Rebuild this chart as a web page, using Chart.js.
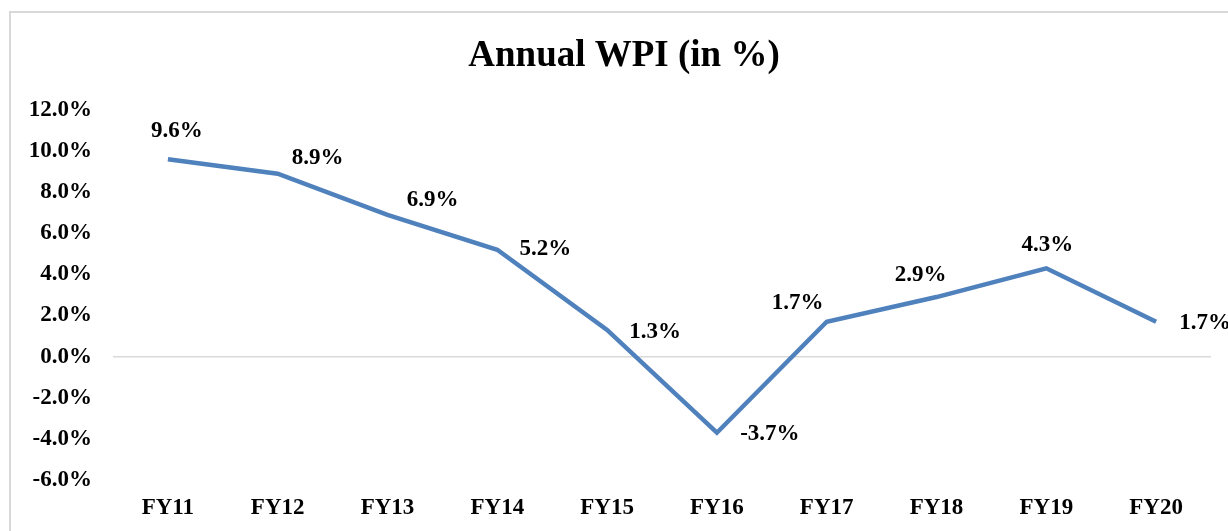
<!DOCTYPE html>
<html>
<head>
<meta charset="utf-8">
<script src="https://cdn.jsdelivr.net/npm/chart.js@4/dist/chart.umd.min.js"></script>
<style>
  html, body { margin: 0; padding: 0; background: #fff; overflow: hidden; }
  .frame { position: absolute; left: 9px; top: 11px; width: 1240px; height: 540px; border: 2px solid #d9d9d9; }
  .wrap { position: absolute; left: 0; top: 0; width: 1228px; height: 531px; }
</style>
</head>
<body>
<div class="frame"></div>
<div class="wrap"><canvas id="wpi"></canvas></div>
<script>
// data
const years = ['FY11', 'FY12', 'FY13', 'FY14', 'FY15', 'FY16', 'FY17', 'FY18', 'FY19', 'FY20'];
const wpi = [9.6, 8.9, 6.9, 5.2, 1.3, -3.7, 1.7, 2.9, 4.3, 1.7];
const yTicks = [-6, -4, -2, 0, 2, 4, 6, 8, 10, 12];
const chartTitle = 'Annual WPI (in %)';

// where each value label sits relative to its point (dx, dy in px)
const labelShift = [[9, -28], [40, -16], [45, -15], [48, -1], [48, 2], [53, 1], [-29, -19], [-16, -22], [1, -23], [49, 1]];

const serif = '"Liberation Serif", "Times New Roman", serif';

const valueLabels = {
  id: 'valueLabels',
  afterDatasetsDraw(chart) {
    const ctx = chart.ctx;
    const meta = chart.getDatasetMeta(0);
    ctx.save();
    ctx.font = 'bold 23px ' + serif;
    ctx.fillStyle = '#000';
    ctx.textAlign = 'center';
    ctx.textBaseline = 'middle';
    meta.data.forEach((pt, i) => {
      const [dx, dy] = labelShift[i];
      ctx.fillText(wpi[i].toFixed(1) + '%', pt.x + dx, pt.y + dy);
    });
    ctx.restore();
  }
};

// title centred on the whole frame rather than the padded chart box
const frameTitle = {
  id: 'frameTitle',
  afterDraw(chart) {
    const ctx = chart.ctx;
    ctx.save();
    ctx.font = 'bold 37px ' + serif;
    ctx.fillStyle = '#000';
    ctx.textAlign = 'center';
    ctx.textBaseline = 'middle';
    ctx.fillText(chartTitle, 624, 56);
    ctx.restore();
  }
};

new Chart(document.getElementById('wpi'), {
  type: 'line',
  data: {
    labels: years,
    datasets: [{
      data: wpi,
      borderColor: '#4F81BD',
      borderWidth: 4.5,
      pointRadius: 0,
      tension: 0,
      fill: false,
    }],
  },
  options: {
    responsive: true,
    maintainAspectRatio: false,
    animation: false,
    layout: { padding: { left: 0, right: 17, top: 110, bottom: 0 } },
    plugins: {
      legend: { display: false },
      tooltip: { enabled: false },
      title: { display: false },
    },
    scales: {
      x: {
        offset: true,
        grid: { display: false, drawTicks: false, offset: true },
        border: { display: false },
        ticks: {
          color: '#000',
          padding: 14,
          font: { family: serif, size: 23, weight: 'bold' },
          maxRotation: 0,
        },
        afterFit(axis) { axis.height = 51; },
      },
      y: {
        min: -6,
        max: 12,
        afterBuildTicks(axis) { axis.ticks = yTicks.map(v => ({ value: v })); },
        grid: {
          drawTicks: false,
          color: c => (c.tick && c.tick.value === 0 ? '#d9d9d9' : 'rgba(0,0,0,0)'),
          lineWidth: 1.5,
        },
        border: { display: false },
        ticks: {
          color: '#000',
          padding: 21,
          font: { family: serif, size: 23, weight: 'bold' },
          callback: v => v.toFixed(1) + '%',
        },
        afterFit(axis) { axis.width = 113; },
      },
    },
  },
  plugins: [valueLabels, frameTitle],
});
</script>
</body>
</html>
